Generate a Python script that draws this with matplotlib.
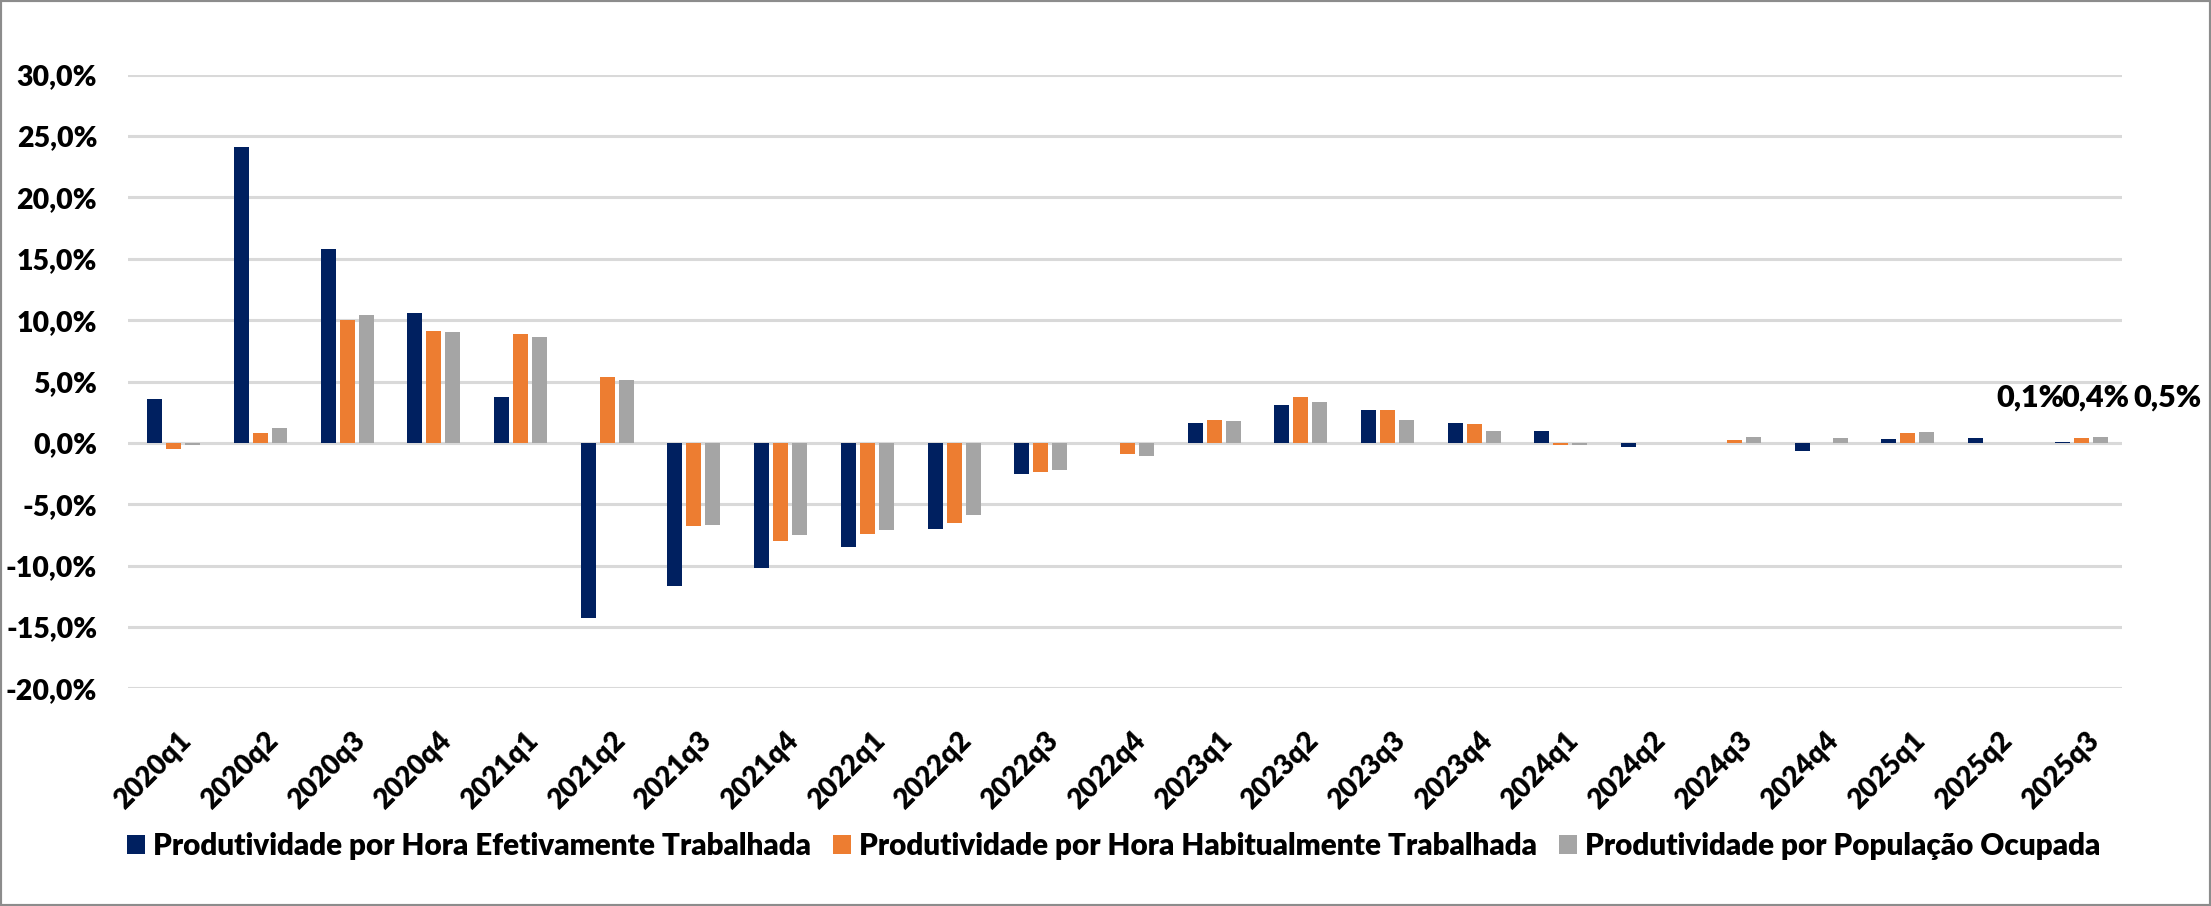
import numpy as np
import matplotlib
matplotlib.use("Agg")
import matplotlib.pyplot as plt
import matplotlib.transforms as mtransforms
from matplotlib.patches import Rectangle


quarters = ["2020q1", "2020q2", "2020q3", "2020q4",
            "2021q1", "2021q2", "2021q3", "2021q4",
            "2022q1", "2022q2", "2022q3", "2022q4",
            "2023q1", "2023q2", "2023q3", "2023q4",
            "2024q1", "2024q2", "2024q3", "2024q4",
            "2025q1", "2025q2", "2025q3"]

hora_efetiva = [3.6, 24.1, 15.8, 10.6, 3.7, -14.3, -11.7, -10.2, -8.5, -7.0, -2.5, 0.0,
                1.6, 3.1, 2.7, 1.6, 1.0, -0.3, 0.0, -0.7, 0.3, 0.4, 0.1]
hora_habitual = [-0.5, 0.8, 10.0, 9.1, 8.9, 5.4, -6.8, -8.0, -7.4, -6.5, -2.4, -0.9,
                 1.9, 3.7, 2.7, 1.5, -0.2, 0.0, 0.2, 0.0, 0.8, 0.0, 0.4]
pop_ocupada = [-0.2, 1.2, 10.4, 9.0, 8.6, 5.1, -6.7, -7.5, -7.1, -5.9, -2.2, -1.1,
               1.8, 3.3, 1.9, 1.0, -0.2, 0.0, 0.5, 0.4, 0.9, 0.0, 0.5]

names = ["Produtividade por Hora Efetivamente Trabalhada",
         "Produtividade por Hora Habitualmente Trabalhada",
         "Produtividade por População Ocupada"]
colors = ["#002060", "#ED7D31", "#A5A5A5"]

plt.rcParams["font.family"] = ["Lato", "DejaVu Sans"]
plt.rcParams["font.weight"] = 800

fig = plt.figure(figsize=(22.11, 9.06), dpi=100)
ax = fig.add_axes([0.0578, 0.2403, 0.9019, 0.6772])

x = np.arange(len(quarters))
width = 0.173
step = 0.219
series = [hora_efetiva, hora_habitual, pop_ocupada]

for i, (vals, name, col) in enumerate(zip(series, names, colors)):
  ax.bar(x + (i - 1) * step + 0.03, vals, width, color=col, label=name, zorder=3)

ax.set_xlim(-0.5, len(quarters) - 0.5)
ax.set_ylim(-20, 30)
ax.set_yticks(np.arange(-20, 31, 5))
ax.set_yticklabels([f"{v:.1f}%".replace(".", ",") for v in np.arange(-20, 31, 5)])
ax.grid(axis="y", color="#D9D9D9", linewidth=2.2, zorder=0)
ax.set_axisbelow(True)
for s in ax.spines.values():
  s.set_visible(False)

ax.tick_params(axis="y", length=0, pad=22, labelsize=20.5)
ax.tick_params(axis="x", length=0, pad=28, labelsize=20)
ax.set_xticks(x)
ax.set_xticklabels(quarters, rotation=45, ha="right", va="top", rotation_mode="anchor")
shift = mtransforms.ScaledTranslation(7 / 100, 0, fig.dpi_scale_trans)
for lab in ax.get_xticklabels():
  lab.set_transform(lab.get_transform() + shift)

# rótulos do último trimestre
last = len(quarters) - 1
offsets = [-32, 14, 67]
for i, vals in enumerate(series):
  xb = last + (i - 1) * step + 0.03
  ax.annotate(f"{vals[last]:.1f}%".replace(".", ","), xy=(xb, vals[last]),
              xytext=(offsets[i], 45 - vals[last] * 12.3), textcoords="offset pixels",
              ha="center", va="center", fontsize=22, annotation_clip=False)

fig.legend(loc="center", bbox_to_anchor=(0.5036, 0.066), ncol=3, frameon=False,
           fontsize=21.3, handlelength=0.62, handleheight=0.62, handletextpad=0.25,
           columnspacing=0.75)

fig.patches.append(Rectangle((0, 0), 1, 1, transform=fig.transFigure, fill=False,
                             edgecolor="#8C8C8C", linewidth=3, zorder=10))

fig.savefig("out.png", dpi=100)
